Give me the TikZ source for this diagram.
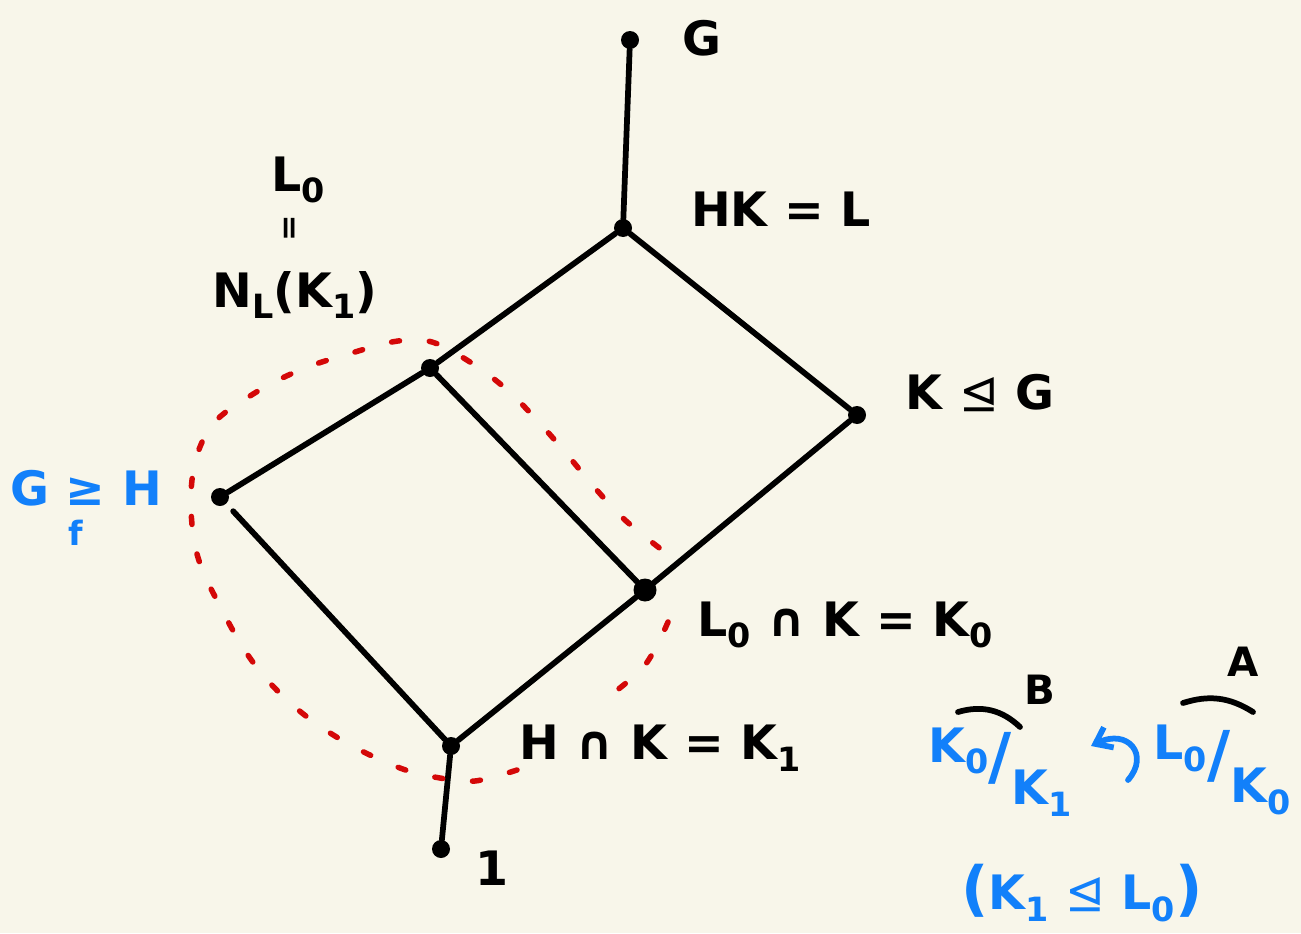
\documentclass[tikz,border=0pt]{standalone}
\usepackage{fontspec}
\setmainfont{DejaVu Sans}
\newfontfamily\symf{DejaVu Sans}
\usetikzlibrary{arrows.meta}
\definecolor{paper}{RGB}{248,246,234}
\definecolor{penblue}{RGB}{18,128,250}
\definecolor{penred}{RGB}{212,8,8}
\newcommand{\lo}[1]{\raisebox{-0.45ex}{\fontsize{19}{19}\selectfont #1}}
\newcommand{\sy}[1]{{\symf\mdseries #1}}
\newcommand{\bigslash}{{\fontsize{36}{36}\selectfont /}}
\begin{document}
\begin{tikzpicture}[x=0.02cm, y=-0.02cm, line cap=round, line join=round,
  pt/.style={circle, fill=black, inner sep=0pt, minimum size=0.36cm},
  ln/.style={line width=0.115cm},
  lbl/.style={font=\fontsize{27}{30}\selectfont\bfseries, inner sep=0pt},
  bl/.style={lbl, text=penblue}]
\fill[paper] (0,0) rectangle (1301,933);
\useasboundingbox (0,0) rectangle (1301,933);

\node[pt, name=G] at (630,40) {};
\node[pt, name=L] at (623,228) {};
\node[pt, name=K] at (857,415) {};
\node[pt, name=L_0] at (430,368) {};
\node[pt, name=H] at (220,497) {};
\node[pt, name=K_0, minimum size=0.46cm] at (645,590) {};
\node[pt, name=K_1] at (451,746) {};
\node[pt, name=one] at (441,849) {};

\node[lbl, name=G_lbl] at (702,38) {G};
\node[lbl, name=L_lbl] at (781,209) {HK = L};
\node[lbl, name=K_lbl] at (980,393) {K \sy{⊴} G};
\node[lbl, name=L_0_lbl] at (298,180) {L\lo{0}};
\node[lbl, name=eq_lbl] at (292,228) {\rotatebox{90}{\fontsize{18}{18}\selectfont =}};
\node[lbl, name=N_lbl] at (295,295) {N\lo{L}(K\lo{1})};
\node[bl, name=H_lbl] at (86,488) {G ≥ H};
\node[bl, name=f_lbl] at (76,533) {\fontsize{19}{19}\selectfont f};
\node[lbl, name=K_0_lbl] at (845,625) {L\lo{0} ∩ K = K\lo{0}};
\node[lbl, name=K_1_lbl] at (660,748) {H ∩ K = K\lo{1}};
\node[lbl, name=one_lbl] at (492,868) {1};

% the two quotients
\node[bl, name=q_B] at (1000,772) {\raisebox{0.35em}{K\lo{0}}\bigslash\raisebox{-0.55em}{K\lo{1}}};
\node[bl, name=q_A] at (1222,770) {\raisebox{0.35em}{L\lo{0}}\bigslash\raisebox{-0.55em}{K\lo{0}}};
\node[lbl, name=B_lbl] at (1040,690) {\fontsize{23}{23}\selectfont B};
\node[lbl, name=A_lbl] at (1243,662) {\fontsize{23}{23}\selectfont A};
\node[bl, name=norm_lbl] at (1082,893) {{\fontsize{34}{34}\selectfont(}K\lo{1} \sy{⊴} L\lo{0}{\fontsize{34}{34}\selectfont)}};

\coordinate (B_a) at (958,712);
\coordinate (B_b) at (1020,727);
\coordinate (A_a) at (1183,703);
\coordinate (A_b) at (1253,712);
\coordinate (act_a) at (1128,780);
\coordinate (act_b) at (1091,746);

\draw[ln] (G) -- (L);
\draw[ln] (L) -- (L_0);
\draw[ln] (L) -- (K);
\draw[ln] (L_0) -- (H);
\draw[ln] (L_0) -- (K_0);
\draw[ln] (K) -- (K_0);
\draw[ln, shorten <=0.2cm] (H) -- (K_1);
\draw[ln] (K_0) -- (K_1);
\draw[ln] (K_1) -- (one);

\draw[ln] (B_a) to[bend left=30] (B_b);
\draw[ln] (A_a) to[bend left=25] (A_b);
\draw[ln, penblue, -{Straight Barb[length=0.3cm, width=0.45cm]}]
  (act_a) .. controls (1150,755) and (1128,728) .. (act_b);

% red loop round the interval, broken where the label sits
\draw[penred, line width=0.11cm, dash pattern=on 0.16cm off 0.6cm]
  plot[smooth, tension=0.6] coordinates {(668,622) (645,665) (608,697)};
\draw[penred, line width=0.11cm, dash pattern=on 0.16cm off 0.6cm]
  plot[smooth, tension=0.6] coordinates {(517,770)
  (475,781) (440,778) (400,768) (345,742) (296,708) (255,665)
  (222,610) (196,550) (192,480) (210,428) (250,396) (300,370) (355,352)
  (398,341) (432,342) (470,362) (505,388) (535,418) (565,452) (595,488)
  (625,520) (662,550)};
\end{tikzpicture}
\end{document}
